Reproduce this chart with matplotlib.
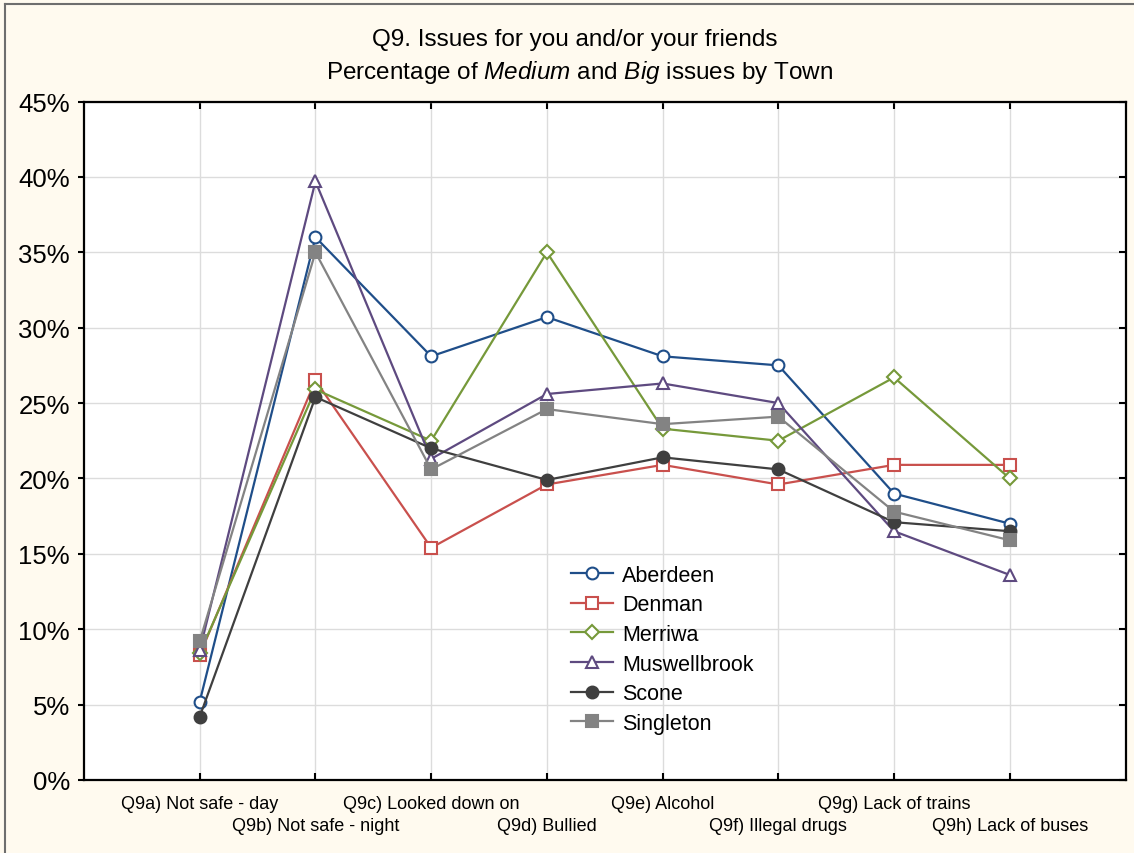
import matplotlib
matplotlib.use("Agg")
from matplotlib import pyplot as plt
from matplotlib.lines import Line2D
from matplotlib.ticker import PercentFormatter

categories = ["Q9a) Not safe - day", "Q9b) Not safe - night", "Q9c) Looked down on",
              "Q9d) Bullied", "Q9e) Alcohol", "Q9f) Illegal drugs",
              "Q9g) Lack of trains", "Q9h) Lack of buses"]

aberdeen = [5.2, 36.0, 28.1, 30.7, 28.1, 27.5, 19.0, 17.0]
denman = [8.3, 26.5, 15.4, 19.6, 20.9, 19.6, 20.9, 20.9]
merriwa = [8.4, 25.9, 22.5, 35.0, 23.3, 22.5, 26.7, 20.0]
muswellbrook = [8.6, 39.7, 21.3, 25.6, 26.3, 25.0, 16.5, 13.6]
scone = [4.2, 25.4, 22.0, 19.9, 21.4, 20.6, 17.1, 16.5]
singleton = [9.2, 35.0, 20.6, 24.6, 23.6, 24.1, 17.8, 15.9]

towns = ["Aberdeen", "Denman", "Merriwa", "Muswellbrook", "Scone", "Singleton"]
series = [aberdeen, denman, merriwa, muswellbrook, scone, singleton]
colors = ["#1F4E89", "#C9504D", "#76993A", "#5E4A80", "#3F3F3F", "#838383"]
markers = ["o", "s", "D", "^", "o", "s"]
msizes = [8.5, 8.5, 7, 8.5, 8.5, 8.5]
filled = [False, False, False, False, True, True]

plt.rcParams['font.family'] = ['Liberation Sans', 'DejaVu Sans']
plt.rcParams['mathtext.fontset'] = 'custom'
plt.rcParams['mathtext.rm'] = 'Liberation Sans'
plt.rcParams['mathtext.it'] = 'Liberation Sans:italic'

bg = "#FFFAEF"
fig = plt.figure(figsize=(11.34, 8.54), dpi=100, facecolor=bg)
ax = fig.add_axes([84 / 1134, 1 - 781 / 854, (1125.5 - 84) / 1134, (781 - 102.5) / 854])
ax.set_facecolor("white")

x = list(range(len(categories)))
for name, vals, c, m, ms, f in zip(towns, series, colors, markers, msizes, filled):
    ax.plot(x, vals, color=c, lw=1.6, marker=m, ms=ms, mew=1.5,
            mfc=c if f else "white", mec=c, label=name, zorder=3)

ax.set_xlim(-1, 8)
ax.set_ylim(0, 45)
ax.set_yticks(range(0, 46, 5))
ax.yaxis.set_major_formatter(PercentFormatter(decimals=0))

# staggered category labels: even ones on the first row, odd ones below
ax.set_xticks(x[0::2])
ax.set_xticklabels(categories[0::2], fontsize=13)
ax.set_xticks(x[1::2], minor=True)
ax.set_xticklabels(categories[1::2], minor=True, fontsize=13)
ax.grid(True, which="both", color="#DCDCDC", lw=1)
ax.set_axisbelow(True)

for s in ax.spines.values():
    s.set_linewidth(1.6)
    s.set_color("black")

ax.tick_params(axis="x", which="both", direction="in", top=True, length=5, width=1.5)
ax.tick_params(axis="x", which="major", pad=11)
ax.tick_params(axis="x", which="minor", pad=27)
ax.tick_params(axis="y", direction="out", length=4, width=1.5, labelsize=18.5, pad=6)

# right side ticks point inward
ax2 = ax.twinx()
ax2.set_ylim(0, 45)
ax2.set_yticks(range(0, 46, 5))
ax2.tick_params(axis="y", direction="in", length=5, width=1.5, labelright=False)
for s in ax2.spines.values():
    s.set_visible(False)

ax.legend(loc="upper left", bbox_to_anchor=(0.459, 0.33), frameon=False,
          fontsize=15.5, handlelength=1.95, handletextpad=0.45, labelspacing=0.4,
          borderaxespad=0)

fig.text(575 / 1134, 1 - 40 / 854, "Q9. Issues for you and/or your friends",
         ha="center", va="center", fontsize=17.5)
fig.text(580 / 1134, 1 - 72 / 854,
         r"Percentage of $\it{Medium}$ and $\it{Big}$ issues by Town",
         ha="center", va="center", fontsize=17.5)

# frame lines along left and top edges
fig.add_artist(Line2D([5 / 1134, 5 / 1134], [0, 1 - 5 / 854], transform=fig.transFigure,
                      color="#6E6E6E", lw=1.5))
fig.add_artist(Line2D([5 / 1134, 1], [1 - 5 / 854, 1 - 5 / 854], transform=fig.transFigure,
                      color="#6E6E6E", lw=1.5))

fig.savefig("out.png", dpi=100, facecolor=bg)
